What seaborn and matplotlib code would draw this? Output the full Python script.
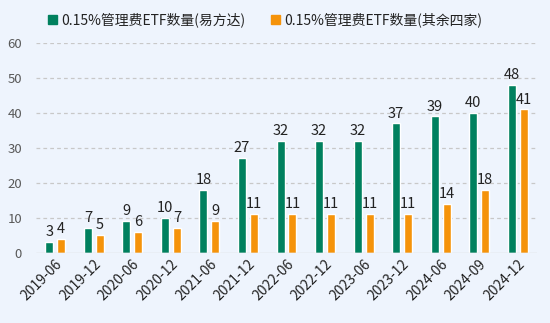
import matplotlib
matplotlib.use("Agg")
import matplotlib.pyplot as plt
import seaborn as sns
import pandas as pd

categories = ["2019-06", "2019-12", "2020-06", "2020-12", "2021-06", "2021-12", "2022-06",
              "2022-12", "2023-06", "2023-12", "2024-06", "2024-09", "2024-12"]
efund = [3, 7, 9, 10, 18, 27, 32, 32, 32, 37, 39, 40, 48]
others = [4, 5, 6, 7, 9, 11, 11, 11, 11, 11, 14, 18, 41]
series_names = ["0.15%管理费ETF数量(易方达)", "0.15%管理费ETF数量(其余四家)"]
colors = ["#00805E", "#F5930A"]

df = pd.DataFrame({
    "date": categories * 2,
    "value": efund + others,
    "series": [series_names[0]] * len(categories) + [series_names[1]] * len(categories),
})

sns.set_theme(style="white")
plt.rcParams["font.family"] = ["Noto Sans CJK SC", "DejaVu Sans"]
bg = "#EEF4FD"

fig = plt.figure(figsize=(5.5, 3.23), dpi=100, facecolor=bg)
ax = fig.add_axes([36 / 550, (323 - 252.5) / 323, (537 - 36) / 550, (252.5 - 43) / 323])
ax.set_facecolor(bg)

sns.barplot(data=df, x="date", y="value", hue="series", order=categories,
            hue_order=series_names, palette=colors, width=0.62, gap=0.33,
            saturation=1, ax=ax, legend=False)

ax.set_ylim(0, 60)
ax.set_yticks(range(0, 61, 10))
ax.set_xlim(-0.5, len(categories) - 0.5)
for y in range(10, 61, 10):
    ax.axhline(y, color="#C8C8C8", lw=0.9, ls=(0, (3, 2.5)), zorder=0)
ax.axhline(0, color="#D9D9D9", lw=1, zorder=3)
for s in ax.spines.values():
    s.set_visible(False)
ax.tick_params(axis="y", length=0, labelsize=9.5, labelcolor="#595959", pad=10)
ax.tick_params(axis="x", length=0, labelsize=10, labelcolor="#222222", pad=3)
plt.setp(ax.get_xticklabels(), rotation=45, ha="right", rotation_mode="anchor")
ax.set_xlabel("")
ax.set_ylabel("")

for cont in ax.containers:
    ax.bar_label(cont, labels=[f"{int(v)}" for v in cont.datavalues],
                 padding=2, fontsize=10.5, color="#222222")

handles = [plt.Rectangle((0, 0), 1, 1, color=c) for c in colors]
fig.legend(handles, series_names, loc="center", bbox_to_anchor=(0.482, 1 - 20 / 323),
           ncol=2, frameon=False, fontsize=10, handlelength=0.7, handleheight=0.7,
           handletextpad=0.3, columnspacing=1.8, labelcolor="#222222")

fig.savefig("out.png", dpi=100, facecolor=bg)
